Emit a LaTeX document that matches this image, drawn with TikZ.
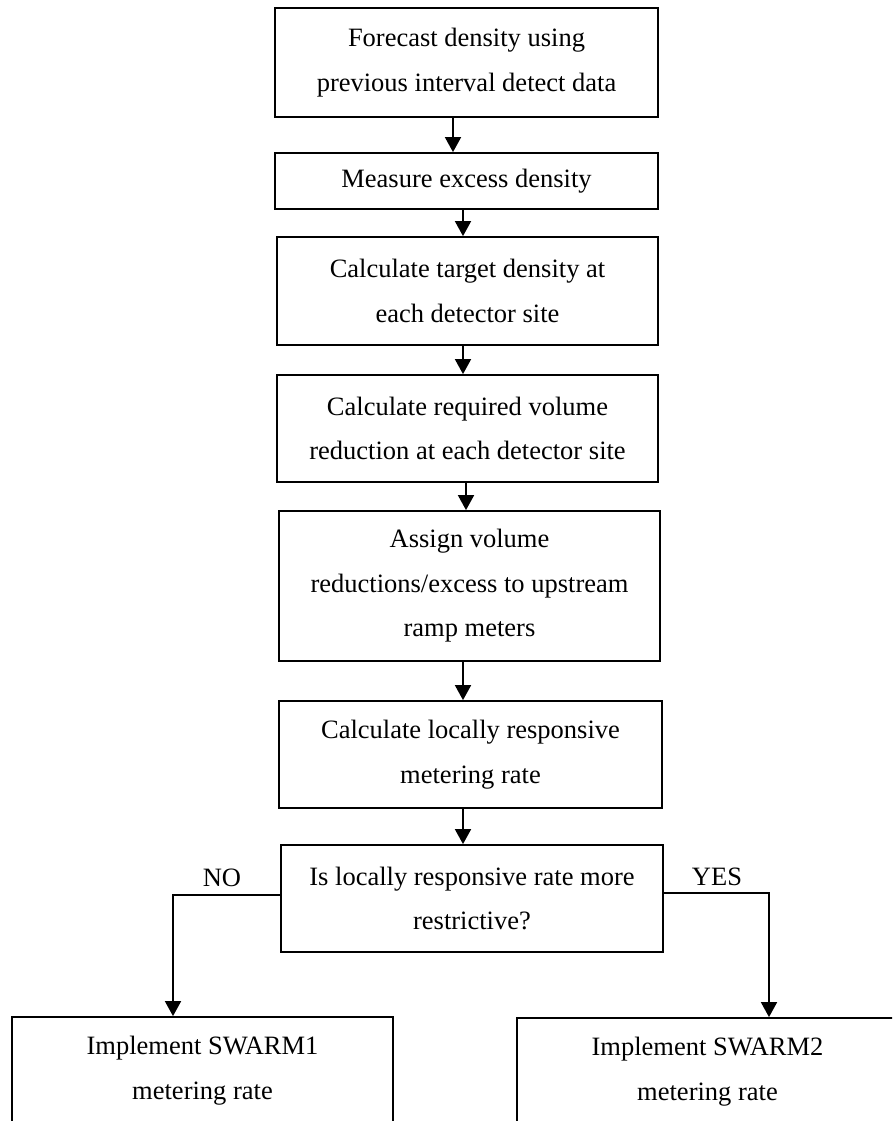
\documentclass[tikz,border=0pt]{standalone}
\usepackage{fontspec}
\setmainfont{Liberation Serif}
\usetikzlibrary{arrows.meta}
\begin{document}
\begin{tikzpicture}[x=1pt,y=-1pt,
  box/.style={draw, line width=1.8pt, inner sep=0pt, align=center,
    font=\fontsize{26.5}{44.5}\selectfont},
  arr/.style={line width=1.8pt, -{Triangle[length=15pt,width=16pt]}},
  lbl/.style={font=\fontsize{26.5}{30}\selectfont}]
\useasboundingbox (0,0) rectangle (892,1121);
\clip (0,0) rectangle (892,1121);

% process steps
\node[box, minimum width=383pt, minimum height=109pt] (b1) at (466.5,62.5)
  {Forecast density using\\previous interval detect data};
\node[box, minimum width=383pt, minimum height=56pt] (b2) at (466.5,181)
  {Measure excess density};
\node[box, minimum width=381pt, minimum height=108pt] (b3) at (467.5,291)
  {Calculate target density at\\each detector site};
\node[box, minimum width=381pt, minimum height=107pt] (b4) at (467.5,428.5)
  {Calculate required volume\\reduction at each detector site};
\node[box, minimum width=381pt, minimum height=150pt] (b5) at (469.5,586)
  {Assign volume\\reductions/excess to upstream\\ramp meters};
\node[box, minimum width=383pt, minimum height=107pt] (b6) at (470.5,754.5)
  {Calculate locally responsive\\metering rate};
\node[box, minimum width=382pt, minimum height=107pt] (d) at (472,898.5)
  {Is locally responsive rate more\\restrictive?};

% outcomes
\node[box, minimum width=381pt, minimum height=107pt] (s1) at (202.5,1070.5)
  {Implement SWARM1\\metering rate};
\node[box, minimum width=381pt, minimum height=107pt] (s2) at (707.5,1071.5)
  {Implement SWARM2\\metering rate};

% flow arrows
\draw[arr] ([xshift=-13.5pt]b1.south) -- ([xshift=-13.5pt]b1.south |- b2.north);
\draw[arr] ([xshift=-3.5pt]b2.south) -- ([xshift=-3.5pt]b2.south |- b3.north);
\draw[arr] ([xshift=-4.5pt]b3.south) -- ([xshift=-4.5pt]b3.south |- b4.north);
\draw[arr] ([xshift=-1.5pt]b4.south) -- ([xshift=-1.5pt]b4.south |- b5.north);
\draw[arr] ([xshift=-6.5pt]b5.south) -- ([xshift=-6.5pt]b5.south |- b6.north);
\draw[arr] ([xshift=-7.5pt]b6.south) -- ([xshift=-7.5pt]b6.south |- d.north);

% decision branches
\draw[arr] ([yshift=3.5pt]d.west) -| ([xshift=-29.5pt]s1.north);
\draw[arr] ([yshift=5.5pt]d.east) -| ([xshift=61.5pt]s2.north);
\node[lbl] (no) at (222,878) {NO};
\node[lbl] (yes) at (717,877) {YES};
\end{tikzpicture}
\end{document}
